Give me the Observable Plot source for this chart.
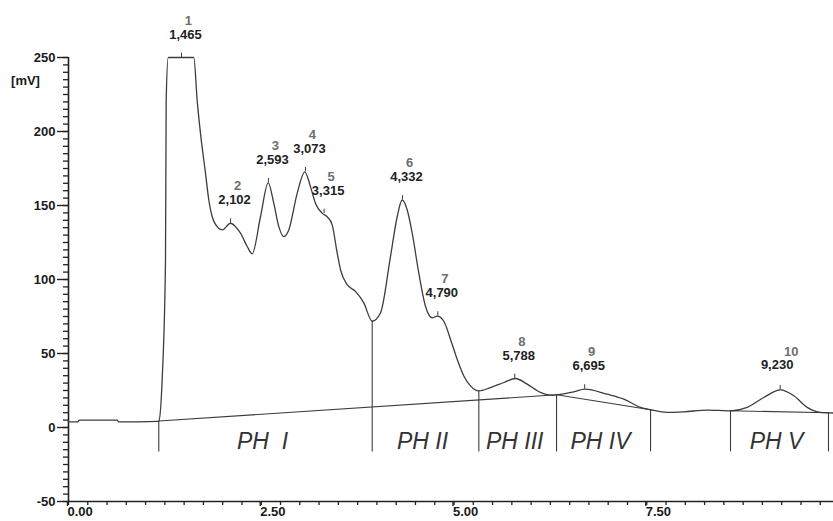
<!DOCTYPE html>
<html>
<head>
<meta charset="utf-8">
<script src="https://cdn.jsdelivr.net/npm/d3@7"></script>
<script src="https://cdn.jsdelivr.net/npm/@observablehq/plot@0.6"></script>
<style>
  html, body { margin: 0; padding: 0; background: #fff; }
  svg text { white-space: pre; }
</style>
</head>
<body>
<div id="chart"></div>
<script>
// Chromatogram trace (retention time [min], signal [mV])
const sigX = [0, 0.12, 0.14, 0.63, 0.65, 1.16, 1.171, 1.215, 1.258, 1.267, 1.293, 1.625, 1.669, 1.712, 1.777, 1.820, 1.864, 1.949, 1.994, 2.101, 2.166, 2.231, 2.318, 2.383, 2.490, 2.590, 2.663, 2.728, 2.792, 2.857, 2.966, 3.065, 3.139, 3.204, 3.291, 3.355, 3.420, 3.485, 3.528, 3.615, 3.722, 3.830, 3.939, 4.047, 4.176, 4.263, 4.328, 4.393, 4.458, 4.543, 4.630, 4.717, 4.782, 4.868, 4.955, 5.041, 5.127, 5.214, 5.322, 5.473, 5.646, 5.798, 5.949, 6.122, 6.252, 6.33, 6.554, 6.695, 6.987, 7.203, 7.419, 7.549, 7.765, 7.981, 8.284, 8.586, 8.803, 9.018, 9.235, 9.408, 9.581, 9.754, 9.922];
const sigY = [3.8, 3.8, 5, 5, 3.8, 4.2, 4.4, 32.6, 113, 221, 250, 250, 220.9, 198.7, 171.8, 153.7, 142.4, 134.6, 133.5, 138.0, 135.7, 131.3, 122.3, 117.3, 142.4, 165.3, 151.4, 135.7, 129.0, 133.5, 158.2, 172.7, 162.6, 151.4, 144.7, 142.4, 136.9, 117.8, 106.6, 96.5, 92.0, 84.2, 71.8, 77.5, 115.5, 142.4, 153.7, 147.0, 131.3, 104.4, 81.9, 74.1, 75.2, 71.8, 59.5, 46.1, 34.8, 28.1, 24.7, 27.0, 30.4, 33.1, 29.3, 23.7, 21.9, 22.1, 24.1, 25.9, 22.5, 19.2, 13.6, 12.0, 10.2, 10.6, 11.8, 11.3, 13.6, 20.3, 25.4, 21.4, 13.6, 10.2, 9.8];

// Peaks
const peakNo = [1, 2, 3, 4, 5, 6, 7, 8, 9, 10];
const peakTimes = [1.465, 2.102, 2.593, 3.073, 3.315, 4.332, 4.790, 5.788, 6.695, 9.230];
const peakHeights = [250, 138, 165.3, 172.7, 144.5, 153.7, 75.2, 33.1, 25.9, 25.4];

// Integration boundaries (drop lines)
const boundX = [1.171, 3.939, 5.322, 6.33, 7.549, 8.586, 9.857];
const boundTop = [4.4, 71.8, 24.7, 22.1, 12.0, 11.3, 10.0];
const boundBottom = -16.5;

// Baseline segments
const baseX1 = [1.171, 6.33, 8.586];
const baseY1 = [4.4, 22.1, 11.3];
const baseX2 = [6.33, 7.549, 9.857];
const baseY2 = [22.1, 12.0, 10.0];

// Region labels
const regionLabels = ["PH  I", "PH II", "PH III", "PH IV", "PH V"];
const regionStart = [1.171, 3.939, 5.322, 6.33, 8.586];
const regionEnd = [3.939, 5.322, 6.33, 7.549, 9.857];
const regionLabelY = -9.5;

// Axis ticks
const yMajor = [-50, 0, 50, 100, 150, 200, 250];
const yMajorLabels = ["-50", "0", "50", "100", "150", "200", "250"];
const xMajor = [0, 2.5, 5, 7.5];
const xMajorLabels = ["0.00", "2.50", "5.00", "7.50"];
const yMinor = d3.range(-50, 251, 5);
const xMinor = d3.range(0, 9.9, 0.25);

const signal = sigX.map((x, i) => ({x, y: sigY[i]}));
const peaks = peakNo.map((n, i) => ({n, t: peakTimes[i], h: peakHeights[i], label: peakTimes[i].toFixed(3).replace(".", ",")}));
const bounds = boundX.map((x, i) => ({x, top: boundTop[i]}));
const baselines = baseX1.map((x1, i) => ({x1, y1: baseY1[i], x2: baseX2[i], y2: baseY2[i]}));
const regions = regionLabels.map((label, i) => ({label, x: (regionStart[i] + regionEnd[i]) / 2}));

const ink = "#3c3c3c";
const font = "'Liberation Sans', Arial, sans-serif";

const chart = Plot.plot({
  width: 833,
  height: 521,
  marginLeft: 68,
  marginRight: 0,
  marginTop: 57,
  marginBottom: 20,
  x: {domain: [0, 9.922]},
  y: {domain: [-50, 250]},
  style: {background: "#fff", fontFamily: font, color: "#222"},
  marks: [
    // axes
    Plot.axisY(yMinor, {tickSize: 5, text: null, tickFormat: () => "", label: null, stroke: "#222", strokeWidth: 1.3}),
    Plot.axisY(yMajor, {tickSize: 11, tickPadding: 2, label: null, tickFormat: d => yMajorLabels[yMajor.indexOf(d)], fontSize: 13, fontWeight: "bold", fill: "#1a1a1a", stroke: "#222", strokeWidth: 1.4}),
    Plot.axisX(xMinor, {tickSize: 4, text: null, tickFormat: () => "", label: null, stroke: "#222", strokeWidth: 1.3}),
    Plot.axisX(xMajor, {tickSize: 5, tickPadding: 0, label: null, textAnchor: "start", dx: -1, tickFormat: d => xMajorLabels[xMajor.indexOf(d)], fontSize: 13, fontWeight: "bold", fill: "#1a1a1a", stroke: "#222", strokeWidth: 1.4}),
    Plot.ruleX([0], {y1: -50, y2: 250, stroke: "#222", strokeWidth: 1.6}),
    Plot.ruleY([-50], {stroke: "#222", strokeWidth: 1.6}),
    Plot.text(["[mV]"], {frameAnchor: "top-left", dx: -43, dy: 18, textAnchor: "middle", fontSize: 13, fontWeight: "bold", fill: "#1a1a1a"}),

    // baselines and drop lines
    Plot.link(baselines, {x1: "x1", y1: "y1", x2: "x2", y2: "y2", stroke: ink, strokeWidth: 1.1}),
    Plot.ruleX(bounds, {x: "x", y1: "top", y2: boundBottom, stroke: ink, strokeWidth: 1.1}),

    // signal
    Plot.line(signal, {x: "x", y: "y", curve: "monotone-x", stroke: ink, strokeWidth: 1.3}),

    // apex ticks
    Plot.ruleX(peaks, {x: "t", y1: "h", y2: d => d.h + 3, stroke: ink, strokeWidth: 1}),

    // peak labels
    Plot.text(peaks, {filter: d => d.n !== 10, x: "t", y: "h", text: "label", dy: -23, dx: 4, fontSize: 13, fontWeight: "bold", fill: "#222"}),
    Plot.text(peaks, {filter: d => d.n !== 10, x: "t", y: "h", text: d => String(d.n), dy: -37, dx: 7, fontSize: 13, fontWeight: "bold", fill: "#6e6e6e"}),
    Plot.text(peaks, {filter: d => d.n === 10, x: "t", y: "h", text: "label", dy: -25, dx: -3, fontSize: 13, fontWeight: "bold", fill: "#222"}),
    Plot.text(peaks, {filter: d => d.n === 10, x: "t", y: "h", text: d => String(d.n), dy: -38, dx: 11, fontSize: 13, fontWeight: "bold", fill: "#6e6e6e"}),

    // region labels
    Plot.text(regions, {x: "x", y: regionLabelY, text: "label", dx: -3, fontSize: 23, fontStyle: "italic", fill: "#333"})
  ]
});

document.getElementById("chart").appendChild(chart);
</script>
</body>
</html>
